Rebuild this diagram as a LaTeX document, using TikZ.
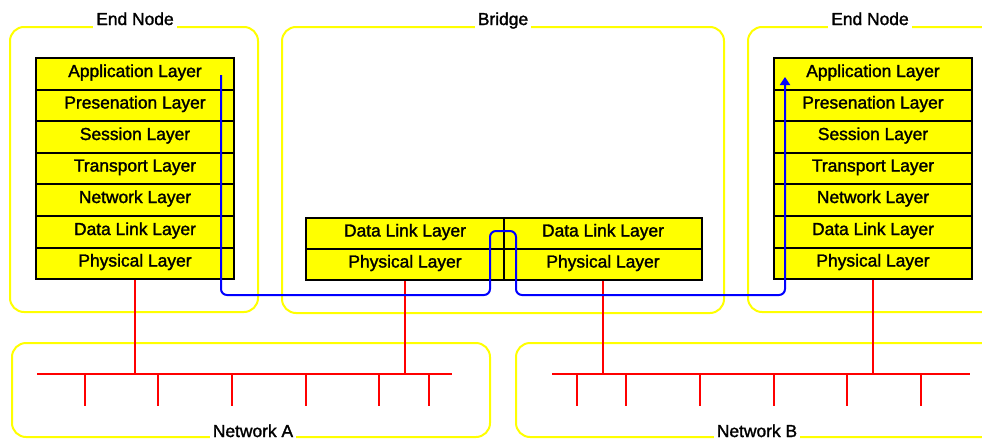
\documentclass[tikz,border=0pt]{standalone}
\usepackage{fontspec}
\setmainfont{Liberation Sans}
\newfontfamily\lblfont{Liberation Sans}[FakeBold=1.6]
\usetikzlibrary{arrows.meta}
\definecolor{yel}{RGB}{255,255,0}
\begin{document}
\begin{tikzpicture}[x=1pt,y=-1pt,
 grp/.style={draw=yel,line width=2pt,rounded corners=14pt},
 layer/.style={draw=black,fill=yel,line width=2pt,minimum width=198pt,inner sep=0pt,font=\lblfont\fontsize{17.4}{19}\selectfont,text height=11pt,text depth=5pt,anchor=north west},
 title/.style={fill=white,inner xsep=3pt,inner ysep=1pt,text depth=4pt,font=\lblfont\fontsize{17.4}{19}\selectfont,anchor=base},
 net/.style={draw=red,line width=2pt},
 flow/.style={draw=blue,line width=2pt,rounded corners=6pt,-{Triangle[length=8pt,width=10pt]}}]
\clip (0,0) rectangle (982,439);
\fill[white] (0,0) rectangle (982,439);
% groups
\draw[grp] (10,27) rectangle (258,312);
\draw[grp] (282,27) rectangle (724,313);
\draw[grp] (748,27) rectangle (1010,312);
\draw[grp] (12,343) rectangle (490,437);
\draw[grp] (516,343) rectangle (1010,437);
% titles
\node[title] (t1) at (135,25) {End Node};
\node[title] (t2) at (503,25) {Bridge};
\node[title] (t3) at (870,25) {End Node};
\node[title] (t4) at (253,437) {Network A};
\node[title] (t5) at (757,437) {Network B};
% stacks
\foreach [count=\i from 0] \t/\y/\h in {Application Layer/57/32,Presenation Layer/89/31,Session Layer/120/32,Transport Layer/152/31,Network Layer/183/32,Data Link Layer/215/32,Physical Layer/247/31}{
  \node[layer,minimum height=\h pt] (A\i) at (35,\y) {\t};
  \node[layer,minimum height=\h pt] (B\i) at (773,\y) {\t};
}
% bridge
\node[layer,minimum height=31pt] (bdl) at (305,217) {Data Link Layer};
\node[layer,minimum height=31pt] (bph) at (305,248) {Physical Layer};
\node[layer,minimum height=31pt] (cdl) at (503,217) {Data Link Layer};
\node[layer,minimum height=31pt] (cph) at (503,248) {Physical Layer};
% network A
\coordinate (ba1) at (37,374);
\coordinate (ba2) at (452,374);
\draw[net] (ba1) -- (ba2);
\draw[net] (A6.south) -- (A6.south |- ba1);
\draw[net] (bph.south) -- (bph.south |- ba1);
\foreach \x in {85,158,232,306,379,429}{\draw[net] (\x,374) -- (\x,406);}
% network B
\coordinate (bb1) at (552,374);
\coordinate (bb2) at (970,374);
\draw[net] (bb1) -- (bb2);
\draw[net] (cph.south) -- (cph.south |- bb1);
\draw[net] (B6.south) -- (B6.south |- bb1);
\foreach \x in {577,626,700,774,847,921}{\draw[net] (\x,374) -- (\x,406);}
% data flow
\coordinate (fs) at (221,75);
\coordinate (fe) at (785,77);
\draw[flow] (fs) -- (221,295) -- (490,295) -- (490,231) -- (516,231) -- (516,295) -- (785,295) -- (fe);
\end{tikzpicture}
\end{document}
